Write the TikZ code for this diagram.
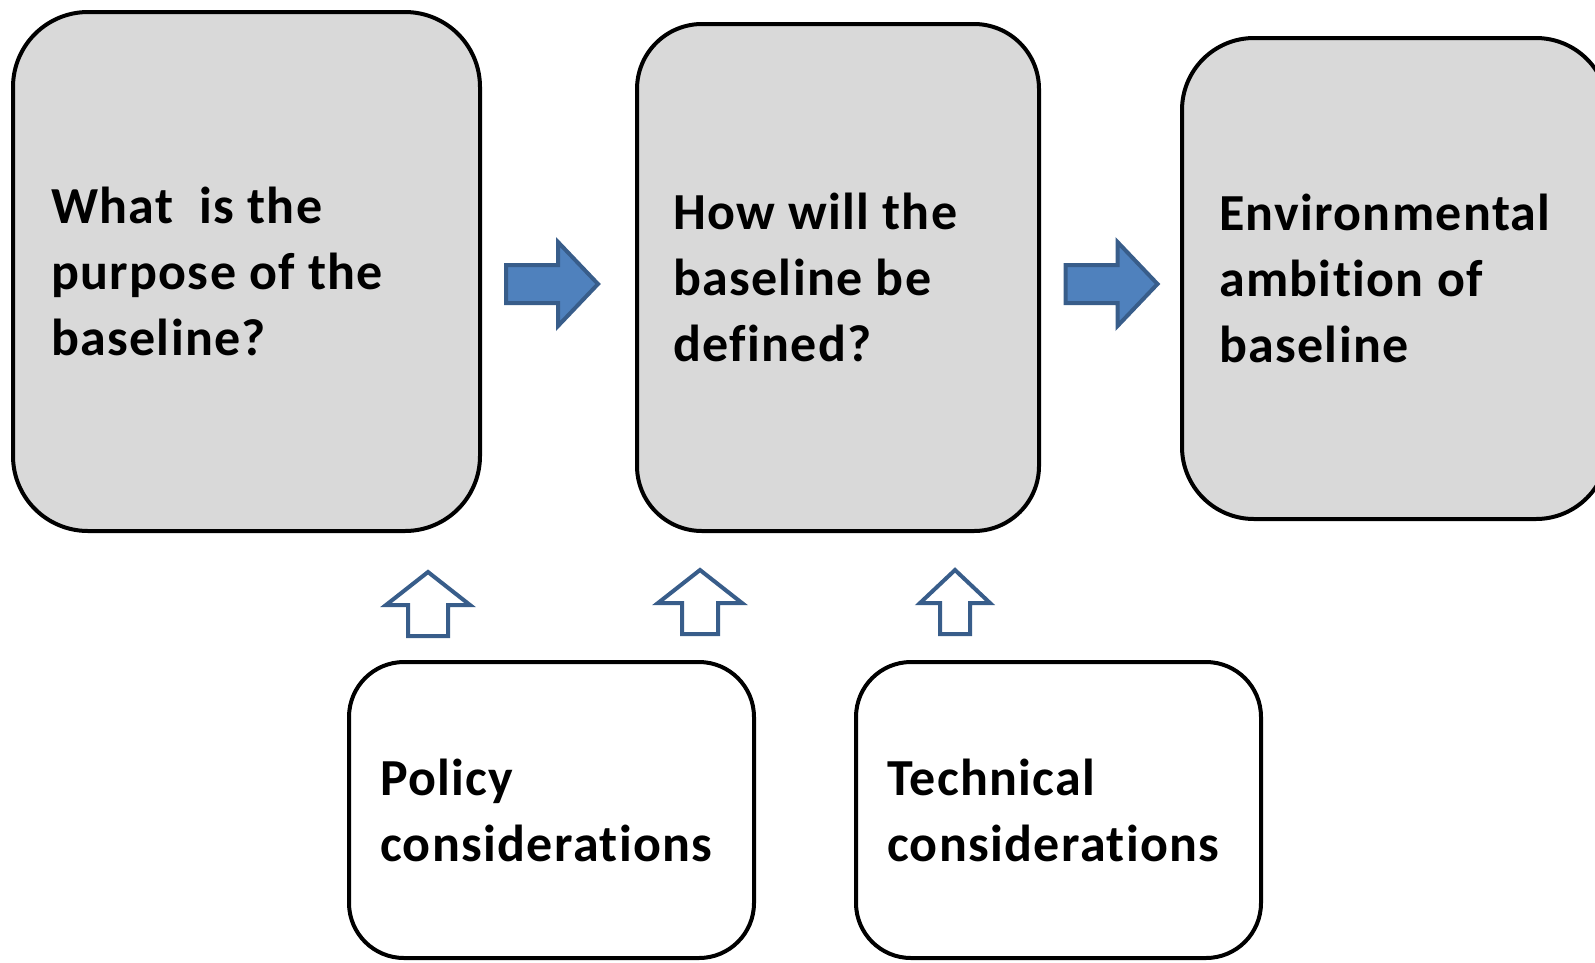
\documentclass[tikz,border=0pt]{standalone}
\usepackage{fontspec}
\setmainfont[Ligatures=NoCommon, LetterSpace=2.6]{Carlito}
\definecolor{boxgrey}{HTML}{D9D9D9}
\definecolor{arrowfill}{HTML}{4F81BD}
\definecolor{arrowline}{HTML}{385D8A}
\tikzset{
  box/.style={draw=black, line width=4pt, align=flush left,
    font=\bfseries\fontsize{52}{66}\selectfont,
    inner ysep=0pt},
  greybox/.style={box, fill=boxgrey},
  whitebox/.style={box, fill=white},
  blockstyle/.style={draw=arrowline, fill=arrowfill, line width=4pt, line join=miter},
  openstyle/.style={draw=arrowline, fill=white, line width=4pt, line join=miter},
  % filled arrow pointing right, centred on its own origin
  pics/rightblock/.style={code={
    \draw[blockstyle] (-46,-19) -- (6,-19) -- (6,-42) -- (46,0) -- (6,42)
      -- (6,19) -- (-46,19) -- cycle;}},
  % outlined arrow pointing up; #1 = half shaft width, #2 = half head width
  pics/openup/.style n args={2}{code={
    \draw[openstyle] (-#1,31) -- (-#1,0) -- (-#2,0) -- (0,-33) -- (#2,0)
      -- (#1,0) -- (#1,31) -- cycle;}},
}
\begin{document}
\begin{tikzpicture}[x=1pt, y=-1pt]
  \useasboundingbox (0,0) rectangle (1595,962);
  \clip (0,0) rectangle (1595,962);

  % question boxes
  \node[greybox, rounded corners=75pt, minimum width=467pt, minimum height=519pt,
        text width=391pt] (purpose) at (246.5,271.5)
        {What\ \ is the\\purpose of the\\baseline?};
  \node[greybox, rounded corners=65pt, minimum width=402pt, minimum height=507pt,
        text width=330pt] (define) at (838,277.5)
        {How will the\\baseline be\\defined?};
  \node[greybox, rounded corners=72pt, minimum width=426pt, minimum height=481pt,
        text width=352pt] (ambition) at (1395,278.5)
        {Environmental\\ambition of\\baseline};

  % consideration boxes
  \node[whitebox, rounded corners=55pt, minimum width=405pt, minimum height=296pt,
        text width=343pt] (policy) at (551.5,810)
        {Policy\\considerations};
  \node[whitebox, rounded corners=55pt, minimum width=405pt, minimum height=296pt,
        text width=343pt] (technical) at (1058.5,810)
        {Technical\\considerations};

  % flow arrows between the question boxes
  \pic at (552,284) {rightblock};
  \pic at (1111.5,284) {rightblock};

  % input arrows from the consideration boxes
  \pic at (428,605) {openup={20}{42}};
  \pic at (700,603) {openup={18}{42}};
  \pic at (955,603) {openup={15}{35}};
\end{tikzpicture}
\end{document}
